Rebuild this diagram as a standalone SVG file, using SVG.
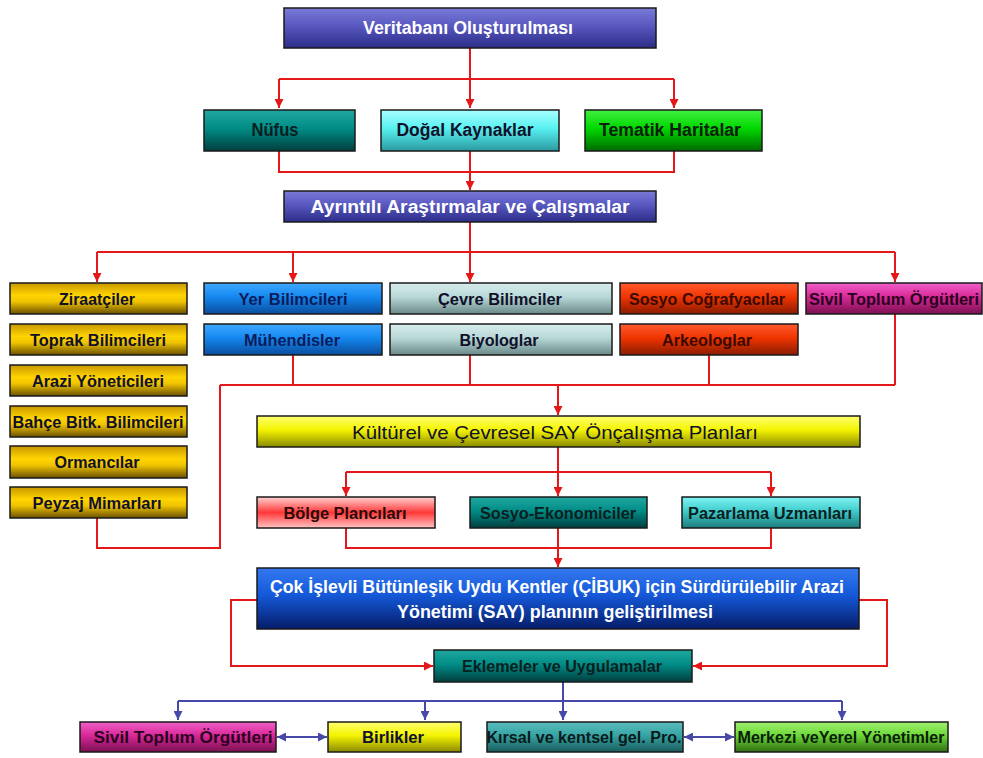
<svg xmlns="http://www.w3.org/2000/svg" width="983" height="758" viewBox="0 0 983 758">
<defs>
<linearGradient id="gPurple" x1="0" y1="0" x2="0" y2="1"><stop offset="0" stop-color="#7a7ad8"/><stop offset="0.45" stop-color="#5858c0"/><stop offset="1" stop-color="#2c2c88"/></linearGradient>
<linearGradient id="gTeal" x1="0" y1="0" x2="0" y2="1"><stop offset="0" stop-color="#20a8a0"/><stop offset="0.45" stop-color="#008c86"/><stop offset="1" stop-color="#003e3e"/></linearGradient>
<linearGradient id="gCyan" x1="0" y1="0" x2="0" y2="1"><stop offset="0" stop-color="#a8ffff"/><stop offset="0.45" stop-color="#58f0f0"/><stop offset="1" stop-color="#2a9aa0"/></linearGradient>
<linearGradient id="gGreen" x1="0" y1="0" x2="0" y2="1"><stop offset="0" stop-color="#40f040"/><stop offset="0.45" stop-color="#00d800"/><stop offset="1" stop-color="#006a00"/></linearGradient>
<linearGradient id="gGold" x1="0" y1="0" x2="0" y2="1"><stop offset="0" stop-color="#c89800"/><stop offset="0.4" stop-color="#ffd400"/><stop offset="0.6" stop-color="#f0c400"/><stop offset="1" stop-color="#6a5000"/></linearGradient>
<linearGradient id="gBlue" x1="0" y1="0" x2="0" y2="1"><stop offset="0" stop-color="#40a8ff"/><stop offset="0.45" stop-color="#1488f0"/><stop offset="1" stop-color="#0a4c9c"/></linearGradient>
<linearGradient id="gGrey" x1="0" y1="0" x2="0" y2="1"><stop offset="0" stop-color="#d8ecec"/><stop offset="0.45" stop-color="#b8d8d8"/><stop offset="1" stop-color="#6a8888"/></linearGradient>
<linearGradient id="gRed" x1="0" y1="0" x2="0" y2="1"><stop offset="0" stop-color="#ff5a30"/><stop offset="0.45" stop-color="#f03400"/><stop offset="1" stop-color="#8a1c00"/></linearGradient>
<linearGradient id="gMagenta" x1="0" y1="0" x2="0" y2="1"><stop offset="0" stop-color="#f060c8"/><stop offset="0.45" stop-color="#d82898"/><stop offset="1" stop-color="#7a1050"/></linearGradient>
<linearGradient id="gYellow" x1="0" y1="0" x2="0" y2="1"><stop offset="0" stop-color="#ffff70"/><stop offset="0.45" stop-color="#f4f400"/><stop offset="1" stop-color="#8a8a00"/></linearGradient>
<linearGradient id="gPink" x1="0" y1="0" x2="0" y2="1"><stop offset="0" stop-color="#ffd0d0"/><stop offset="0.5" stop-color="#ff3838"/><stop offset="1" stop-color="#ffc4c4"/></linearGradient>
<linearGradient id="gAqua" x1="0" y1="0" x2="0" y2="1"><stop offset="0" stop-color="#80f4f4"/><stop offset="0.45" stop-color="#40cccc"/><stop offset="1" stop-color="#1c7c7c"/></linearGradient>
<linearGradient id="gDeepBlue" x1="0" y1="0" x2="0" y2="1"><stop offset="0" stop-color="#3478f0"/><stop offset="0.45" stop-color="#1458d8"/><stop offset="1" stop-color="#061c68"/></linearGradient>
<linearGradient id="gKirsal" x1="0" y1="0" x2="0" y2="1"><stop offset="0" stop-color="#5cbcbc"/><stop offset="0.45" stop-color="#36a4a4"/><stop offset="1" stop-color="#1a5c5c"/></linearGradient>
<linearGradient id="gLime" x1="0" y1="0" x2="0" y2="1"><stop offset="0" stop-color="#a0f070"/><stop offset="0.45" stop-color="#6cd838"/><stop offset="1" stop-color="#306c10"/></linearGradient>
<marker id="arR" viewBox="0 0 10 10" refX="10" refY="5" markerWidth="4.5" markerHeight="4.5" orient="auto-start-reverse" markerUnits="strokeWidth"><path d="M0,0 L10,5 L0,10 z" fill="#e41818"/></marker>
<marker id="arB" viewBox="0 0 10 10" refX="10" refY="5" markerWidth="4.5" markerHeight="4.5" orient="auto-start-reverse" markerUnits="strokeWidth"><path d="M0,0 L10,5 L0,10 z" fill="#4848a8"/></marker>
</defs>
<style>
.box{stroke:#1a1a1a;stroke-width:1.5}
text{font-family:"Liberation Sans","Arimo","DejaVu Sans",sans-serif;font-weight:bold;text-anchor:middle;dominant-baseline:central;fill:#10102a;font-size:16px}
.w{fill:#ffffff}
.big{font-size:18px}
.wide{font-size:19px;font-weight:normal}
.r{fill:none;stroke:#e41818;stroke-width:2}
.b{fill:none;stroke:#4848a8;stroke-width:2}
</style>
<rect width="983" height="758" fill="#ffffff"/>
<g id="connectors">
<path class="r" d="M470,48 V108" marker-end="url(#arR)"/>
<path class="r" d="M279,79 H674"/>
<path class="r" d="M279,79 V108" marker-end="url(#arR)"/>
<path class="r" d="M674,79 V108" marker-end="url(#arR)"/>
<path class="r" d="M279,151 V172 H674 V151"/>
<path class="r" d="M470,151 V190" marker-end="url(#arR)"/>
<path class="r" d="M470,222 V282" marker-end="url(#arR)"/>
<path class="r" d="M97,252 H895"/>
<path class="r" d="M97,252 V282" marker-end="url(#arR)"/>
<path class="r" d="M293,252 V282" marker-end="url(#arR)"/>
<path class="r" d="M895,252 V282" marker-end="url(#arR)"/>
<path class="r" d="M293,355 V385 M470,355 V385 M709,355 V385 M895,314 V385 M220,385 H895"/>
<path class="r" d="M97,518 V548 H220 V385"/>
<path class="r" d="M558,385 V415" marker-end="url(#arR)"/>
<path class="r" d="M558,447 V496" marker-end="url(#arR)"/>
<path class="r" d="M346,472 H771"/>
<path class="r" d="M346,472 V496" marker-end="url(#arR)"/>
<path class="r" d="M771,472 V496" marker-end="url(#arR)"/>
<path class="r" d="M346,528 V548 H771 V528"/>
<path class="r" d="M558,528 V567" marker-end="url(#arR)"/>
<path class="r" d="M257,600 H231 V666 H433" marker-end="url(#arR)"/>
<path class="r" d="M859,600 H887 V666 H693" marker-end="url(#arR)"/>
<path class="b" d="M563,682 V720" marker-end="url(#arB)"/>
<path class="b" d="M178,701 H842"/>
<path class="b" d="M178,701 V720" marker-end="url(#arB)"/>
<path class="b" d="M425,701 V720" marker-end="url(#arB)"/>
<path class="b" d="M842,701 V720" marker-end="url(#arB)"/>
<path class="b" d="M277,737 H327" marker-start="url(#arB)" marker-end="url(#arB)"/>
<path class="b" d="M684,737 H734" marker-start="url(#arB)" marker-end="url(#arB)"/>
</g>
<g id="n-veritabani"><rect class="box" x="284" y="8" width="372" height="40" fill="url(#gPurple)"/><text class="w big" x="468" y="28" textLength="210" lengthAdjust="spacingAndGlyphs">Veritabanı Oluşturulması</text></g>
<g id="n-nufus"><rect class="box" x="204" y="110" width="151" height="41" fill="url(#gTeal)"/><text class="big" x="275" y="130" textLength="47" lengthAdjust="spacingAndGlyphs" style="fill:#0a2020">Nüfus</text></g>
<g id="n-dogal"><rect class="box" x="381" y="110" width="178" height="41" fill="url(#gCyan)"/><text class="big" x="465" y="130" textLength="137" lengthAdjust="spacingAndGlyphs">Doğal Kaynaklar</text></g>
<g id="n-tematik"><rect class="box" x="585" y="110" width="177" height="41" fill="url(#gGreen)"/><text class="big" x="670" y="130" textLength="142" lengthAdjust="spacingAndGlyphs" style="fill:#0a200a">Tematik Haritalar</text></g>
<g id="n-ayrintili"><rect class="box" x="284" y="191" width="372" height="31" fill="url(#gPurple)"/><text class="w big" x="470" y="207" textLength="319" lengthAdjust="spacingAndGlyphs">Ayrıntılı Araştırmalar ve Çalışmalar</text></g>
<g id="n-ziraat"><rect class="box" x="10" y="283" width="177" height="31" fill="url(#gGold)"/><text x="97" y="299" textLength="76" lengthAdjust="spacingAndGlyphs">Ziraatçiler</text></g>
<g id="n-toprak"><rect class="box" x="10" y="324" width="177" height="31" fill="url(#gGold)"/><text x="98" y="340" textLength="136" lengthAdjust="spacingAndGlyphs">Toprak Bilimcileri</text></g>
<g id="n-arazi"><rect class="box" x="10" y="365" width="177" height="31" fill="url(#gGold)"/><text x="98" y="381" textLength="132" lengthAdjust="spacingAndGlyphs">Arazi Yöneticileri</text></g>
<g id="n-bahce"><rect class="box" x="10" y="406" width="177" height="31" fill="url(#gGold)"/><text x="98" y="422" textLength="171" lengthAdjust="spacingAndGlyphs">Bahçe Bitk. Bilimcileri</text></g>
<g id="n-orman"><rect class="box" x="10" y="446" width="177" height="32" fill="url(#gGold)"/><text x="97" y="462" textLength="85" lengthAdjust="spacingAndGlyphs">Ormancılar</text></g>
<g id="n-peyzaj"><rect class="box" x="10" y="487" width="177" height="31" fill="url(#gGold)"/><text x="97" y="503" textLength="129" lengthAdjust="spacingAndGlyphs">Peyzaj Mimarları</text></g>
<g id="n-yer"><rect class="box" x="204" y="283" width="178" height="31" fill="url(#gBlue)"/><text x="293" y="299" textLength="109" lengthAdjust="spacingAndGlyphs" style="fill:#0c1c5c">Yer Bilimcileri</text></g>
<g id="n-muhendis"><rect class="box" x="204" y="324" width="178" height="31" fill="url(#gBlue)"/><text x="292" y="340" textLength="96" lengthAdjust="spacingAndGlyphs" style="fill:#0c1c5c">Mühendisler</text></g>
<g id="n-cevre"><rect class="box" x="390" y="283" width="222" height="31" fill="url(#gGrey)"/><text x="500" y="299" textLength="124" lengthAdjust="spacingAndGlyphs">Çevre Bilimciler</text></g>
<g id="n-biyolog"><rect class="box" x="390" y="324" width="222" height="31" fill="url(#gGrey)"/><text x="499" y="340" textLength="79" lengthAdjust="spacingAndGlyphs">Biyologlar</text></g>
<g id="n-sosyocog"><rect class="box" x="620" y="283" width="178" height="31" fill="url(#gRed)"/><text x="707" y="299" textLength="156" lengthAdjust="spacingAndGlyphs" style="fill:#3a0a00">Sosyo Coğrafyacılar</text></g>
<g id="n-arkeolog"><rect class="box" x="620" y="324" width="178" height="31" fill="url(#gRed)"/><text x="707" y="340" textLength="90" lengthAdjust="spacingAndGlyphs" style="fill:#3a0a00">Arkeologlar</text></g>
<g id="n-sivil1"><rect class="box" x="806" y="283" width="176" height="31" fill="url(#gMagenta)"/><text x="894" y="299" textLength="170" lengthAdjust="spacingAndGlyphs" style="fill:#2a0020">Sivil Toplum Örgütleri</text></g>
<g id="n-kulturel"><rect class="box" x="257" y="416" width="603" height="31" fill="url(#gYellow)"/><text class="wide" x="555" y="432" textLength="406" lengthAdjust="spacingAndGlyphs">Kültürel ve Çevresel SAY Önçalışma Planları</text></g>
<g id="n-bolge"><rect class="box" x="257" y="497" width="178" height="31" fill="url(#gPink)"/><text x="345" y="513" textLength="123" lengthAdjust="spacingAndGlyphs" style="fill:#2a0a0a">Bölge Plancıları</text></g>
<g id="n-sosyoeko"><rect class="box" x="470" y="497" width="177" height="31" fill="url(#gTeal)"/><text x="558" y="513" textLength="156" lengthAdjust="spacingAndGlyphs" style="fill:#0a2020">Sosyo-Ekonomiciler</text></g>
<g id="n-pazarlama"><rect class="box" x="682" y="497" width="178" height="31" fill="url(#gAqua)"/><text x="770" y="513" textLength="164" lengthAdjust="spacingAndGlyphs" style="fill:#0a2020">Pazarlama Uzmanları</text></g>
<g id="n-cok"><rect class="box" x="257" y="568" width="602" height="61" fill="url(#gDeepBlue)"/><text class="w big" x="557" y="587" textLength="574" lengthAdjust="spacingAndGlyphs">Çok İşlevli Bütünleşik Uydu Kentler (ÇİBUK) için Sürdürülebilir Arazi</text><text class="w big" x="555" y="612" textLength="316" lengthAdjust="spacingAndGlyphs">Yönetimi (SAY) planının geliştirilmesi</text></g>
<g id="n-eklemeler"><rect class="box" x="434" y="650" width="258" height="32" fill="url(#gTeal)"/><text x="562" y="666" textLength="200" lengthAdjust="spacingAndGlyphs" style="fill:#0a2020">Eklemeler ve Uygulamalar</text></g>
<g id="n-sivil2"><rect class="box" x="80" y="722" width="196" height="30" fill="url(#gMagenta)"/><text x="183" y="737" textLength="179" lengthAdjust="spacingAndGlyphs" style="fill:#2a0020">Sivil Toplum Örgütleri</text></g>
<g id="n-birlikler"><rect class="box" x="328" y="722" width="133" height="30" fill="url(#gYellow)"/><text x="393" y="737" textLength="62" lengthAdjust="spacingAndGlyphs">Birlikler</text></g>
<g id="n-kirsal"><rect class="box" x="487" y="722" width="196" height="30" fill="url(#gKirsal)"/><text x="584" y="737" textLength="195" lengthAdjust="spacingAndGlyphs" style="fill:#0a1a1a">Kırsal ve kentsel gel. Pro.</text></g>
<g id="n-merkezi"><rect class="box" x="735" y="722" width="213" height="30" fill="url(#gLime)"/><text x="841" y="737" textLength="207" lengthAdjust="spacingAndGlyphs" style="fill:#0a200a">Merkezi veYerel Yönetimler</text></g>
</svg>
